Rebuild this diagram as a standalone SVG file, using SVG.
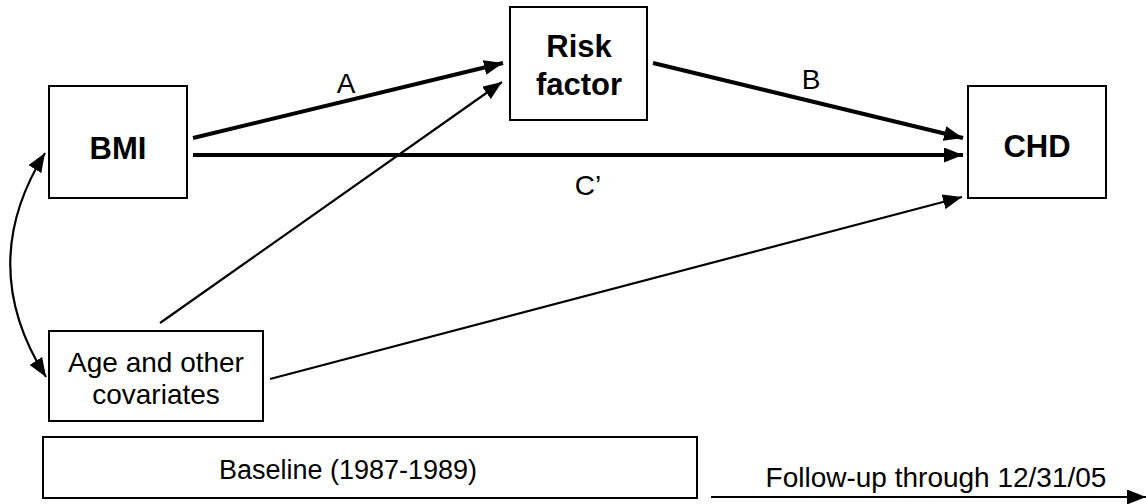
<svg xmlns="http://www.w3.org/2000/svg" width="1146" height="504" viewBox="0 0 1146 504">
<style>
.box{fill:#fff;stroke:#000;stroke-width:2}
.t{font-family:"Liberation Sans",Arial,sans-serif;font-size:28px;fill:#000;text-anchor:middle}
.b{font-weight:bold;font-size:31px}
.s{font-size:27px}
.thick{stroke:#000;stroke-width:4;fill:none}
.thin{stroke:#000;stroke-width:2.2;fill:none}
</style>
<defs>
<marker id="ah" markerUnits="userSpaceOnUse" markerWidth="19" markerHeight="15" refX="19" refY="7.5" orient="auto">
<path d="M0,0 L19,7.5 L0,15 z" fill="#000"/>
</marker>
<marker id="ahs" markerUnits="userSpaceOnUse" markerWidth="19" markerHeight="15" refX="19" refY="7.5" orient="auto-start-reverse">
<path d="M0,0 L19,7.5 L0,15 z" fill="#000"/>
</marker>
</defs>
<g id="connectors">
<line class="thick" x1="193" y1="138" x2="503" y2="63" marker-end="url(#ah)"/>
<line class="thick" x1="193" y1="155" x2="963" y2="155" marker-end="url(#ah)"/>
<line class="thick" x1="653" y1="63" x2="963" y2="138" marker-end="url(#ah)"/>
<line class="thin" x1="160" y1="323" x2="502" y2="82" marker-end="url(#ah)"/>
<line class="thin" x1="270" y1="379" x2="962" y2="197" marker-end="url(#ah)"/>
<path class="thin" d="M45,153 Q-25,265 46,377" marker-start="url(#ahs)" marker-end="url(#ahs)"/>
<line class="thin" x1="711" y1="497" x2="1146" y2="497" marker-end="url(#ah)"/>
<text class="t" x="346" y="93">A</text>
<text class="t" x="811" y="89">B</text>
<text class="t" x="588" y="195">C’</text>
</g>
<g id="bmi">
<rect class="box" x="49" y="86" width="138" height="112"/>
<text class="t b" x="118" y="159">BMI</text>
</g>
<g id="risk">
<rect class="box" x="510" y="7" width="137" height="113"/>
<text class="t b" x="579" y="57">Risk</text>
<text class="t b" x="579" y="95">factor</text>
</g>
<g id="chd">
<rect class="box" x="968" y="86" width="138" height="112"/>
<text class="t b" x="1037" y="157">CHD</text>
</g>
<g id="age">
<rect class="box" x="49" y="331" width="214" height="90"/>
<text class="t" x="156" y="372">Age and other</text>
<text class="t" x="156" y="404">covariates</text>
</g>
<g id="baseline">
<rect class="box" x="43" y="437" width="654" height="61"/>
<text class="t s" x="348" y="479">Baseline (1987-1989)</text>
</g>
<g id="followup">
<text class="t" x="936" y="487">Follow-up through 12/31/05</text>
</g>
</svg>
